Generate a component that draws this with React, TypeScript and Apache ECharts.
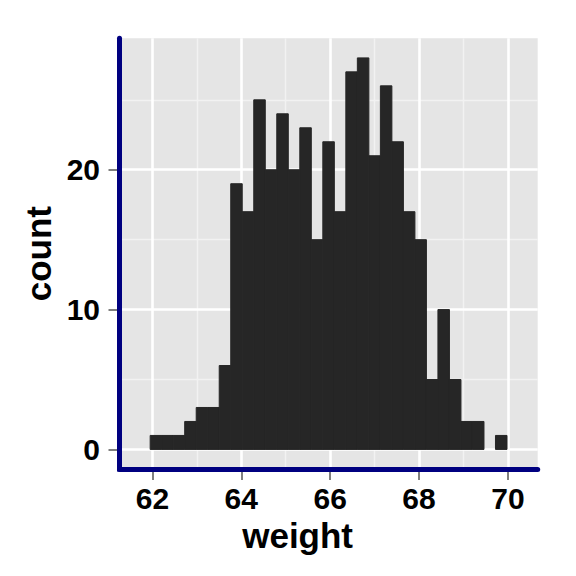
import React, { useEffect, useRef } from "react";
import * as echarts from "echarts";

// Histogram data
const binStart = 61.95;
const binWidth = 0.259;
const counts = [1, 1, 1, 2, 3, 3, 6, 19, 17, 25, 20, 24, 20, 23, 15, 22, 17, 27, 28, 21, 26, 22, 17, 15, 5, 10, 5, 2, 2, 0, 1];

// Axes
const xMin = 61.26;
const xMax = 70.67;
const yMin = -1.4;
const yMax = 29.4;
const xTicks = [62, 64, 66, 68, 70];
const xMinor = [63, 65, 67, 69];
const yTicks = [0, 10, 20];
const yMinor = [5, 15, 25];

const xTitle = "weight";
const yTitle = "count";

const FONT = "'Liberation Sans', Arial, Helvetica, sans-serif";
const NAVY = "#000080";
const PANEL = "#E5E5E5";
const BAR = "#262626";
const TICK = "#7F7F7F";

const GRID = { left: 119.5, right: 38.3, top: 38.3, bottom: 107 };

export default function App() {
  const ref = useRef<HTMLDivElement>(null);

  useEffect(() => {
    if (!ref.current) return;
    const chart = echarts.init(ref.current, undefined, { renderer: "svg" });

    const data = counts.map((c, i) => [binStart + i * binWidth, binStart + (i + 1) * binWidth, c]);

    const major = { color: "#FFFFFF", width: 2.6, type: "solid" as const };
    const minor = { color: "#F2F2F2", width: 1.4, type: "solid" as const };

    const gridLines = [
      ...xMinor.map((v) => ({ xAxis: v, lineStyle: minor })),
      ...yMinor.map((v) => ({ yAxis: v, lineStyle: minor })),
      ...xTicks.map((v) => ({ xAxis: v, lineStyle: major })),
      ...yTicks.map((v) => ({ yAxis: v, lineStyle: major })),
    ];

    const labelStyle = {
      fontFamily: FONT,
      fontWeight: "bold" as const,
      fontSize: 30,
      color: "#000000",
    };

    chart.setOption({
      animation: false,
      grid: {
        ...GRID,
        show: true,
        backgroundColor: PANEL,
        borderWidth: 0,
      },
      xAxis: [
        {
          type: "value",
          min: xMin,
          max: xMax,
          position: "bottom",
          axisLine: { show: false, onZero: false },
          splitLine: { show: false },
          axisTick: {
            show: true,
            customValues: xTicks,
            length: 11,
            lineStyle: { color: TICK, width: 2 },
          },
          axisLabel: {
            show: true,
            customValues: xTicks,
            margin: 14,
            ...labelStyle,
          },
          name: xTitle,
          nameLocation: "middle",
          nameGap: 48,
          nameTextStyle: {
            fontFamily: FONT,
            fontWeight: "bold",
            fontSize: 35,
            color: "#000000",
            padding: [0, 62, 0, 0],
          },
        },
        {
          type: "value",
          min: xMin,
          max: xMax,
          position: "bottom",
          offset: 0,
          z: 10,
          axisLine: {
            show: true,
            onZero: false,
            symbol: ["rect", "none"],
            symbolSize: [5, 5],
            lineStyle: { color: NAVY, width: 5 },
          },
          axisTick: { show: false },
          axisLabel: { show: false },
          splitLine: { show: false },
        },
      ],
      yAxis: [
        {
          type: "value",
          min: yMin,
          max: yMax,
          position: "left",
          axisLine: { show: false, onZero: false },
          splitLine: { show: false },
          axisTick: {
            show: true,
            customValues: yTicks,
            length: 11,
            lineStyle: { color: TICK, width: 2 },
          },
          axisLabel: {
            show: true,
            customValues: yTicks,
            margin: 19.5,
            ...labelStyle,
          },
          name: yTitle,
          nameLocation: "middle",
          nameGap: 57,
          nameRotate: 90,
          nameTextStyle: {
            fontFamily: FONT,
            fontWeight: "bold",
            fontSize: 35,
            color: "#000000",
          },
        },
        {
          type: "value",
          min: yMin,
          max: yMax,
          position: "left",
          offset: 0,
          z: 10,
          axisLine: {
            show: true,
            onZero: false,
            lineStyle: { color: NAVY, width: 5 },
          },
          axisTick: { show: false },
          axisLabel: { show: false },
          splitLine: { show: false },
        },
      ],
      series: [
        {
          type: "custom",
          xAxisIndex: 0,
          yAxisIndex: 0,
          z: 3,
          silent: true,
          encode: { x: [0, 1], y: 2 },
          data,
          renderItem: (params: any, api: any) => {
            const x0 = api.value(0);
            const x1 = api.value(1);
            const c = api.value(2);
            if (!c) return null;
            const p0 = api.coord([x0, c]);
            const p1 = api.coord([x1, 0]);
            return {
              type: "rect",
              shape: { x: p0[0], y: p0[1], width: p1[0] - p0[0], height: p1[1] - p0[1] },
              style: { fill: BAR, stroke: BAR, lineWidth: 1 },
            };
          },
          markLine: {
            silent: true,
            z: 1,
            symbol: "none",
            label: { show: false },
            emphasis: { disabled: true },
            data: gridLines,
          },
        },
      ],
    });

    return () => chart.dispose();
  }, []);

  return (
    <div
      ref={ref}
      style={{ position: "absolute", left: 0, top: 0, width: 576, height: 576 }}
    />
  );
}
